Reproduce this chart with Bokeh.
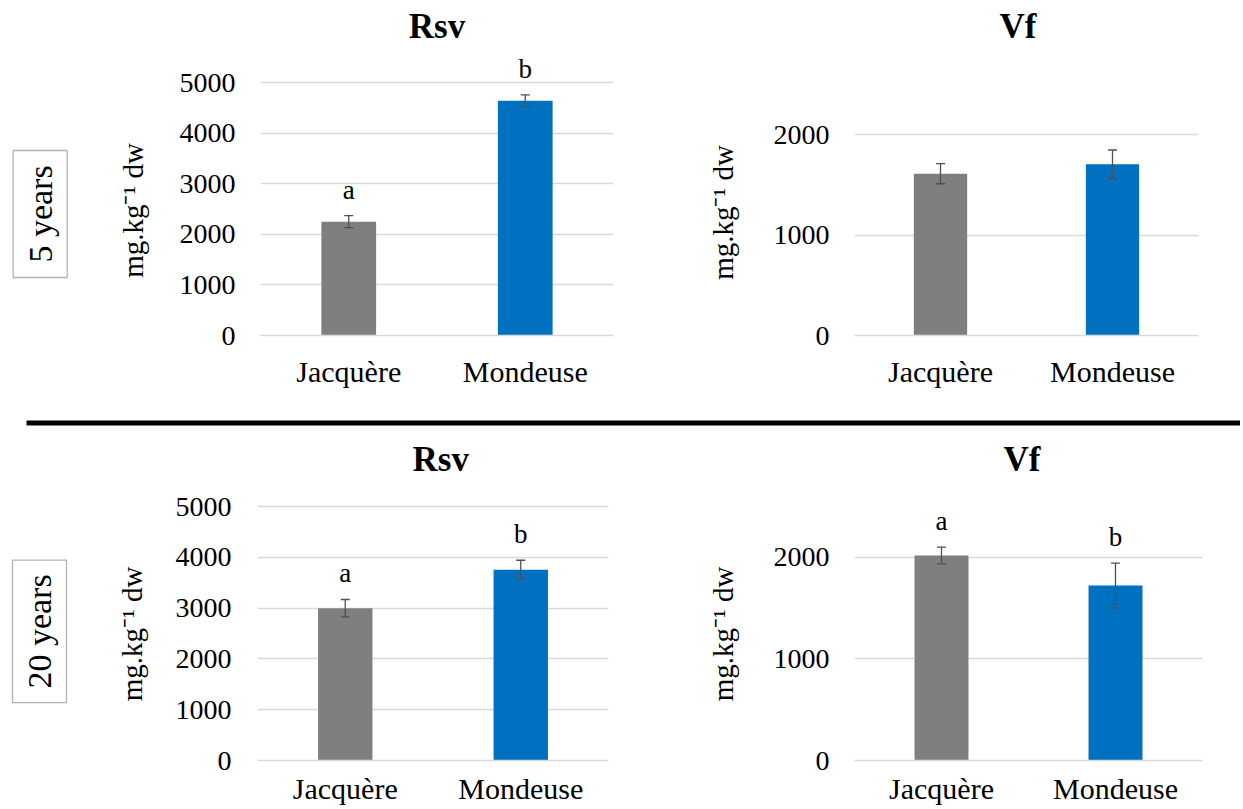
import math
from bokeh.plotting import figure
from bokeh.models import (FactorRange, Range1d, FixedTicker, Whisker, TeeHead,
                          ColumnDataSource, BoxAnnotation, Label, Title)
from bokeh.layouts import row, column
from bokeh.embed import file_html
from bokeh.resources import INLINE
from bokeh.core.properties import value

# ---------------- data ----------------
cultivars = ["Jacquère", "Mondeuse"]
bar_colors = ["#7F7F7F", "#0070C0"]

rsv_5y = [2250, 4640]
rsv_5y_err = [120, 115]
rsv_5y_letters = ["a", "b"]

vf_5y = [1610, 1703]
vf_5y_err = [100, 143]
vf_5y_letters = ["", ""]

rsv_20y = [3000, 3760]
rsv_20y_err = [172, 185]
rsv_20y_letters = ["a", "b"]

vf_20y = [2017, 1722]
vf_20y_err = [82, 220]
vf_20y_letters = ["a", "b"]

rsv_ticks = [0, 1000, 2000, 3000, 4000, 5000]
vf_ticks = [0, 1000, 2000]
y_label = "mg.kg⁻¹ dw"
period_labels = ["5 years", "20 years"]
panel_titles = ["Rsv", "Vf"]

FONT = "Liberation Serif"
GRID = "#D9D9D9"


def panel(title, vals, errs, letters, ticks, *, W, H, fl, fr, ft, zero, ppu,
          tick_std, x_std, title_std, title_left=None):
    y_end = (zero - ft) / ppu
    p = figure(width=W, height=H, x_range=FactorRange(factors=cultivars, range_padding=0),
               y_range=Range1d(0, y_end), toolbar_location=None, output_backend="svg",
               min_border_left=fl, min_border_right=W - fr, min_border_top=ft,
               min_border_bottom=H - zero)
    if title_left is None:
        p.title = Title(text=title, align="center", text_font=FONT, text_font_size="35px",
                        text_font_style="bold", text_color="black", standoff=title_std)
    else:
        p.title = Title(text=title, align="left", offset=title_left, text_font=FONT,
                        text_font_size="35px", text_font_style="bold", text_color="black",
                        standoff=title_std)
    p.outline_line_color = None
    p.background_fill_color = "white"
    p.border_fill_color = "white"
    p.xgrid.grid_line_color = None
    p.ygrid.grid_line_color = GRID
    p.ygrid.grid_line_width = 1.3

    src = ColumnDataSource(dict(x=cultivars, top=vals, color=bar_colors,
                                lower=[v - e for v, e in zip(vals, errs)],
                                upper=[v + e for v, e in zip(vals, errs)],
                                letter=letters))
    p.vbar(x="x", top="top", width=0.31, color="color", line_color=None, source=src)
    w = Whisker(base="x", upper="upper", lower="lower", source=src, dimension="height",
                line_color="#505050", line_width=1.3,
                upper_head=TeeHead(size=9, line_color="#505050", line_width=1.3),
                lower_head=TeeHead(size=9, line_color="#505050", line_width=1.3))
    w.level = "overlay"
    p.add_layout(w)
    if any(letters):
        p.text(x="x", y="upper", text="letter", source=src, text_align="center",
               text_baseline="bottom", y_offset=-11, text_font=value(FONT),
               text_font_size="27px", text_color="black")

    ya = p.yaxis[0]
    ya.ticker = FixedTicker(ticks=ticks)
    ya.axis_line_color = None
    ya.major_tick_line_color = None
    ya.minor_tick_line_color = None
    ya.major_tick_out = 0
    ya.major_label_standoff = tick_std
    ya.major_label_text_font = FONT
    ya.major_label_text_font_size = "28px"
    ya.major_label_text_color = "black"

    xa = p.xaxis[0]
    xa.axis_line_color = GRID
    xa.axis_line_width = 1.3
    xa.major_tick_line_color = None
    xa.minor_tick_line_color = None
    xa.major_tick_out = 0
    xa.major_label_standoff = x_std
    xa.major_label_text_font = FONT
    xa.major_label_text_font_size = "30px"
    xa.major_label_text_color = "black"
    return p


def text_fig(W, H, ft, zero, box=None, box_text=None, ylab_at=None):
    # data coordinates: x = pixels from the figure's left, y = H - pixels from its top
    p = figure(width=W, height=H, x_range=Range1d(0, W), y_range=Range1d(H - zero, H - ft),
               x_axis_type=None, y_axis_type=None, toolbar_location=None,
               output_backend="svg", min_border_left=0, min_border_right=0,
               min_border_top=ft, min_border_bottom=H - zero)
    p.outline_line_color = None
    p.grid.grid_line_color = None
    if box is not None:
        left, right, top_px, bottom_px = box
        top, bottom = H - top_px, H - bottom_px
        p.add_layout(BoxAnnotation(left=left, right=right, bottom=bottom, top=top,
                                   fill_color=None, line_color="black", line_width=1.3))
        p.add_layout(Label(x=(left + right) / 2, y=(bottom + top) / 2, text=box_text,
                           angle=math.pi / 2, text_align="center", text_baseline="middle",
                           text_font=FONT, text_font_size="34px", text_color="black"))
    if ylab_at is not None:
        lx, ly = ylab_at
        p.add_layout(Label(x=lx, y=H - ly, text=y_label, angle=math.pi / 2,
                           text_align="center", text_baseline="middle",
                           text_font=FONT, text_font_size="29px", text_color="black"))
    return p


TOP_H = 415
BOT_H = 376
ROW2 = 431  # page y where the second row starts
TOP_FT, TOP_ZERO = 48, 335
BOT_FT, BOT_ZERO = 50, 761 - ROW2

# top row: [0-160 side texts][160-640 Rsv][640-760 y label][760-1240 Vf]
side1 = text_fig(160, TOP_H, TOP_FT, TOP_ZERO, box=(12.7, 66.7, 150, 277),
                 box_text=period_labels[0], ylab_at=(132, 210))
f1 = panel(panel_titles[0], rsv_5y, rsv_5y_err, rsv_5y_letters, rsv_ticks,
           W=480, H=TOP_H, fl=100, fr=453, ft=TOP_FT, zero=TOP_ZERO, ppu=0.0506,
           tick_std=25, x_std=19, title_std=5)
ylab2 = text_fig(120, TOP_H, TOP_FT, TOP_ZERO, ylab_at=(82, 212))
f2 = panel(panel_titles[1], vf_5y, vf_5y_err, vf_5y_letters, vf_ticks,
           W=480, H=TOP_H, fl=94, fr=438, ft=TOP_FT, zero=TOP_ZERO, ppu=0.1005,
           tick_std=25, x_std=19, title_std=5, title_left=145)

# bottom row
side3 = text_fig(160, BOT_H, BOT_FT, BOT_ZERO, box=(12.0, 66.0, 560 - ROW2, 703 - ROW2),
                 box_text=period_labels[1], ylab_at=(131, 634 - ROW2))
f3 = panel(panel_titles[0], rsv_20y, rsv_20y_err, rsv_20y_letters, rsv_ticks,
           W=480, H=BOT_H, fl=97, fr=448, ft=BOT_FT, zero=BOT_ZERO, ppu=0.05094,
           tick_std=26, x_std=11, title_std=5, title_left=155)
ylab4 = text_fig(120, BOT_H, BOT_FT, BOT_ZERO, ylab_at=(82, 634 - ROW2))
f4 = panel(panel_titles[1], vf_20y, vf_20y_err, vf_20y_letters, vf_ticks,
           W=480, H=BOT_H, fl=94, fr=442, ft=BOT_FT, zero=BOT_ZERO, ppu=0.102,
           tick_std=25, x_std=11, title_std=5, title_left=149)

sep = figure(width=1240, height=ROW2 - TOP_H, x_range=Range1d(0, 1240),
             y_range=Range1d(0, ROW2 - TOP_H), x_axis_type=None, y_axis_type=None,
             toolbar_location=None, output_backend="svg", min_border=0)
sep.outline_line_color = None
sep.grid.grid_line_color = None
sep.add_layout(BoxAnnotation(left=26, right=1240, bottom=6, top=11,
                             fill_color="black", fill_alpha=1, line_color=None))

layout = column(row(side1, f1, ylab2, f2), sep, row(side3, f3, ylab4, f4))

with open("out.html", "w") as fh:
    fh.write(file_html(layout, INLINE))
